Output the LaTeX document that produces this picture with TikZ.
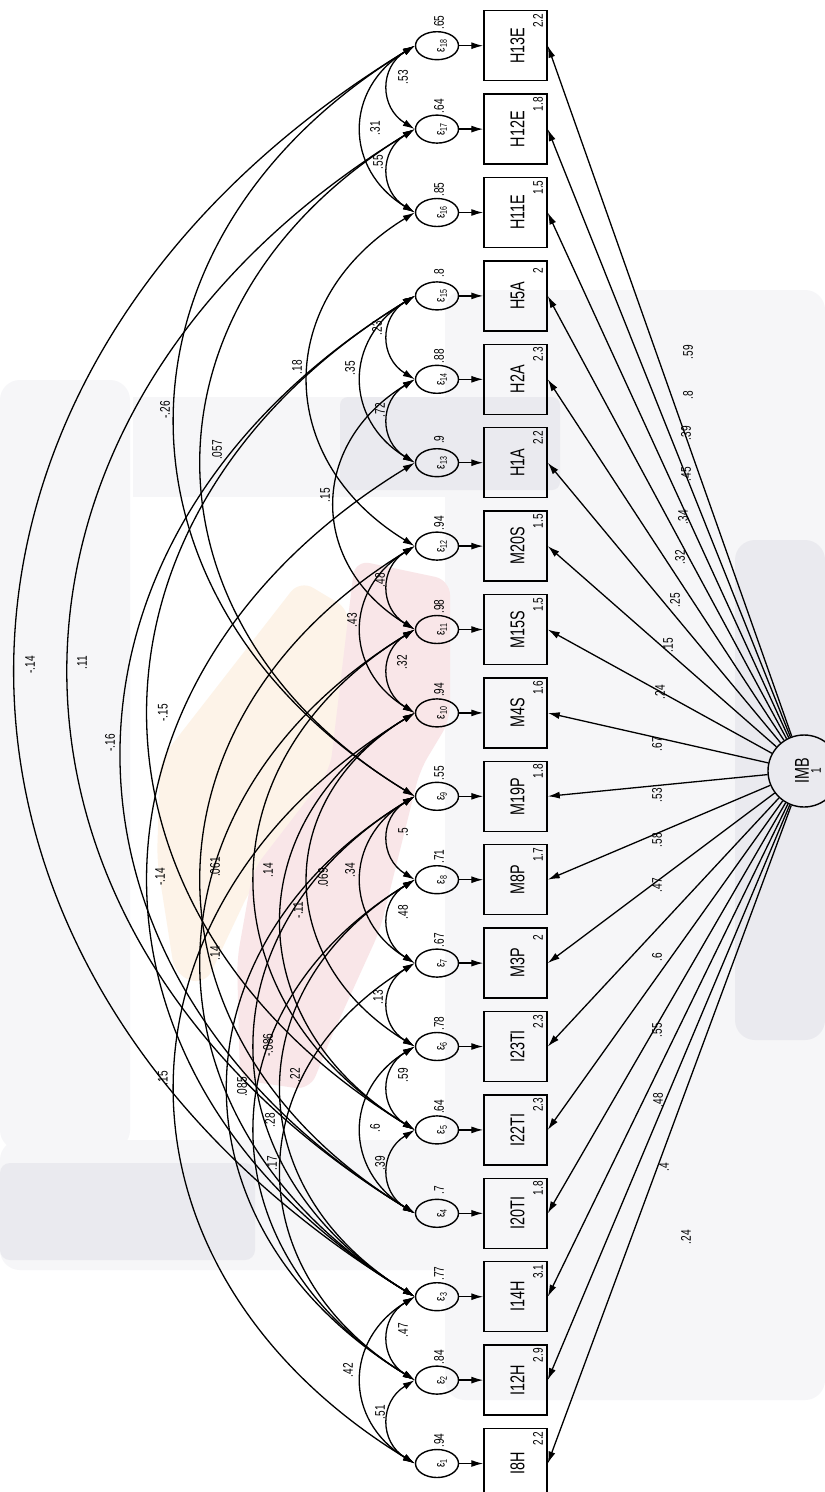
\documentclass[tikz,border=0pt]{standalone}
\usepackage{fontspec}
\setmainfont{Liberation Sans}[FakeStretch=0.72]
\usetikzlibrary{arrows.meta,calc,shapes.geometric}
\newcommand\covpath[4]{%
  \pgfmathsetmacro\dd{(#2-#1)*83.4}%
  \draw[<->] (e#1.west) .. controls ($(e#1.west)+(-0.425*\dd,-0.26*\dd)$) and ($(e#2.west)+(-0.425*\dd,0.26*\dd)$) .. (e#2.west);
  \node[lbl] at #4 {#3};}
\definecolor{wmA}{RGB}{246,246,248}
\definecolor{wmB}{RGB}{234,234,239}
\definecolor{wmC}{RGB}{253,243,232}
\definecolor{wmD}{RGB}{249,230,232}
\begin{document}
\begin{tikzpicture}[x=1pt,y=-1pt,
  line width=1.3pt, >={Latex[length=12pt,width=7pt]},
  obs/.style={draw, line width=1.5pt, minimum width=63pt, minimum height=70pt, inner sep=0pt},
  err/.style={draw, ellipse, line width=1.4pt, minimum width=43pt, minimum height=28pt, inner sep=0pt},
  lat/.style={draw, circle, line width=1.4pt, minimum size=72pt, inner sep=0pt},
  lbl/.style={rotate=90, inner sep=0pt, font=\fontsize{14}{14}\selectfont},
  boxtxt/.style={rotate=90, inner sep=0pt, font=\fontsize{20}{20}\selectfont},
  etxt/.style={rotate=90, inner sep=0pt, font=\fontsize{14}{14}\selectfont}]
\useasboundingbox (0,0) rectangle (825,1492);
\fill[white] (0,0) rectangle (825,1492);
% faint background watermark
\fill[wmA, rounded corners=20pt] (445,290) rectangle (825,1400);
\fill[wmA, rounded corners=20pt] (0,380) rectangle (130,1150);
\fill[wmA] (133,397) rectangle (560,497);
\fill[wmB, rounded corners=8pt] (340,397) rectangle (560,490);
\fill[wmA, rounded corners=20pt] (0,1140) rectangle (560,1270);
\fill[wmB, rounded corners=10pt] (0,1163) rectangle (255,1260);
\fill[wmB, rounded corners=20pt] (735,540) rectangle (825,1040);
\fill[wmC, rounded corners=15pt] (300,580) -- (350,610) -- (335,765) -- (250,890) -- (205,985) -- (175,975) -- (157,860) -- (160,760) -- cycle;
\fill[wmD, rounded corners=15pt] (355,560) -- (450,580) -- (450,720) -- (420,770) -- (380,930) -- (330,1040) -- (310,1090) -- (240,1080) -- (237,960) -- (253,870) -- (330,770) -- cycle;
% nodes
\foreach \i/\nm/\mn/\vv in {1/I8H/2.2/.94, 2/I12H/2.9/.84, 3/I14H/3.1/.77, 4/I20TI/1.8/.7,
  5/I22TI/2.3/.64, 6/I23TI/2.3/.78, 7/M3P/2/.67, 8/M8P/1.7/.71, 9/M19P/1.8/.55,
  10/M4S/1.6/.94, 11/M15S/1.5/.98, 12/M20S/1.5/.94, 13/H1A/2.2/.9, 14/H2A/2.3/.88,
  15/H5A/2/.8, 16/H11E/1.5/.85, 17/H12E/1.8/.64, 18/H13E/2.2/.65}{
  \pgfmathsetmacro\yy{1463.5-(\i-1)*83.4}
  \node[obs] (b\i) at (515.5,\yy) {};
  \node[boxtxt] (bt\i) at (517.5,\yy) {\nm};
  \node[lbl] (bm\i) at (538,\yy-25) {\mn};
  \node[err] (e\i) at (437,\yy) {};
  \node[etxt] (et\i) at (442,\yy) {ε\textsubscript{\i}};
  \node[lbl] (ev\i) at (439,\yy-23) {\vv};
  \draw[->] (e\i) -- (b\i);
}
\node[lat] (imb) at (804,771) {};
\node[boxtxt] (imbt) at (802,771) {IMB};
\node[etxt] (imbv) at (816,771) {1};
% loadings
\foreach \i/\lab/\lx/\ly in {1/.24/686/1237, 2/.4/664/1167, 3/.48/658/1100, 4/.55/657/1030,
  5/.6/657/957, 6/.47/657/885, 7/.58/657/840, 8/.53/657/795, 9/.67/657/744, 10/.24/660/692,
  11/.15/668/645, 12/.25/675/600, 13/.32/680/557, 14/.34/683/517, 15/.45/686/474,
  16/.39/686/433, 17/.8/688/395, 18/.59/688/352}{
  \draw[->] (imb) -- (b\i.east);
  \node[lbl] (ll\i) at (\lx,\ly) {\lab};
}
% covariances (short)
\covpath{1}{2}{.51}{(380,1412)}
\covpath{2}{3}{.47}{(403,1330)}
\covpath{1}{3}{.42}{(348,1370)}
\covpath{4}{5}{.39}{(380,1163)}
\covpath{4}{6}{.6}{(375,1128)}
\covpath{5}{6}{.59}{(403,1075)}
\covpath{6}{7}{.13}{(378,997)}
\covpath{7}{8}{.48}{(403,912)}
\covpath{8}{9}{.5}{(403,832)}
\covpath{7}{9}{.34}{(350,870)}
\covpath{10}{11}{.32}{(402,662)}
\covpath{10}{12}{.43}{(352,620)}
\covpath{11}{12}{.48}{(380,580)}
\covpath{13}{14}{.72}{(380,410)}
\covpath{13}{15}{.35}{(350,368)}
\covpath{14}{15}{.23}{(377,328)}
\covpath{16}{17}{.55}{(378,162)}
\covpath{16}{18}{.31}{(375,128)}
\covpath{17}{18}{.53}{(403,77)}
% covariances (long)
\covpath{3}{18}{-.14}{(30,665)}
\covpath{4}{17}{.11}{(82,663)}
\covpath{4}{15}{-.16}{(110,743)}
\covpath{5}{15}{-.15}{(163,713)}
\covpath{9}{18}{-.26}{(165,410)}
\covpath{9}{17}{.057}{(217,450)}
\covpath{12}{16}{.18}{(297,367)}
\covpath{11}{14}{.15}{(325,495)}
\covpath{3}{13}{-.14}{(160,877)}
\covpath{4}{12}{.061}{(215,867)}
\covpath{3}{11}{.14}{(215,953)}
\covpath{5}{11}{.14}{(268,870)}
\covpath{5}{10}{-.11}{(298,910)}
\covpath{6}{10}{.069}{(323,878)}
\covpath{3}{9}{-.086}{(268,1045)}
\covpath{3}{8}{.22}{(295,1075)}
\covpath{2}{9}{.085}{(242,1087)}
\covpath{1}{10}{.15}{(163,1078)}
\covpath{2}{8}{.28}{(270,1120)}
\covpath{2}{7}{.17}{(272,1163)}
\end{tikzpicture}
\end{document}
